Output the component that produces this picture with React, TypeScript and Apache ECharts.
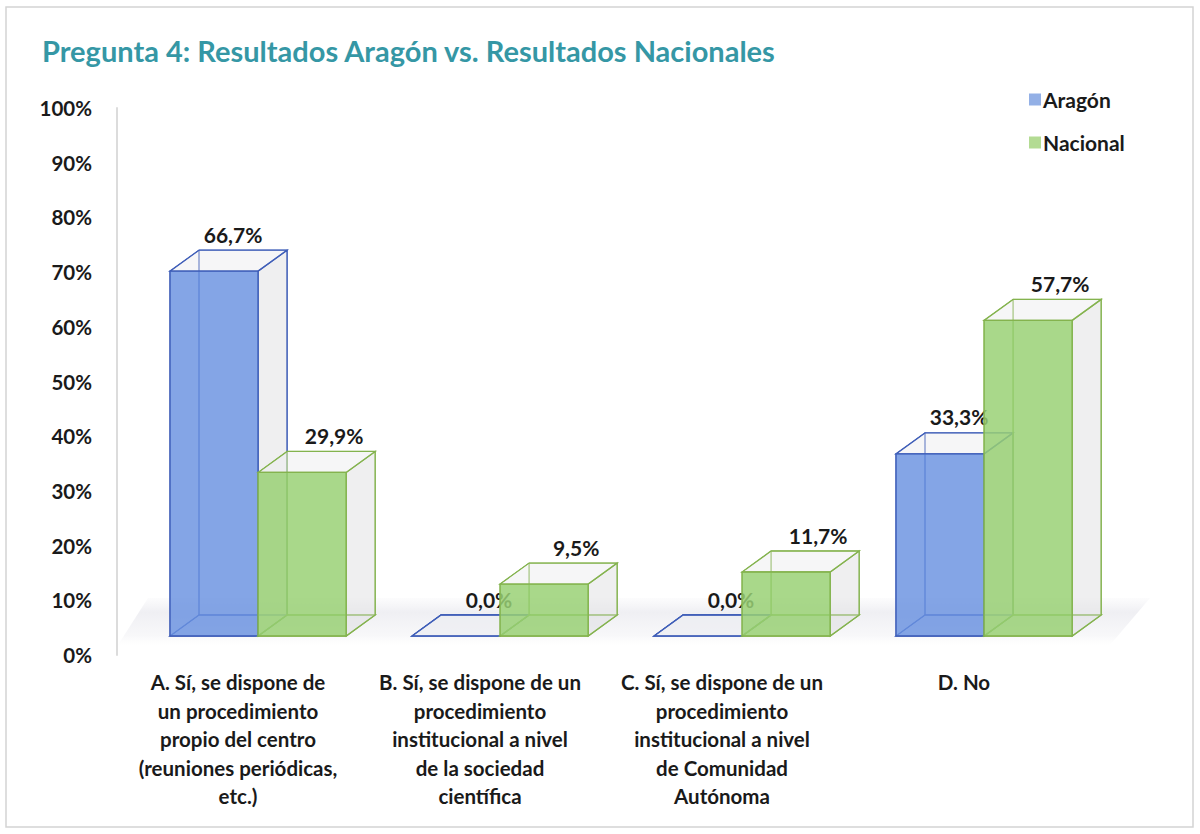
import React, { useEffect, useRef } from "react";
import * as echarts from "echarts";

const categories = [
  "A. Sí, se dispone de\nun procedimiento\npropio del centro\n(reuniones periódicas,\netc.)",
  "B. Sí, se dispone de un\nprocedimiento\ninstitucional a nivel\nde la sociedad\ncientífica",
  "C. Sí, se dispone de un\nprocedimiento\ninstitucional a nivel\nde Comunidad\nAutónoma",
  "D. No",
];
const aragon = [66.7, 0.0, 0.0, 33.3];
const nacional = [29.9, 9.5, 11.7, 57.7];
const seriesNames = ["Aragón", "Nacional"];
const yTicks = [0, 100, 10];

const FONT = "Lato, 'Open Sans', sans-serif";
const palette = [
  { fill: "rgba(105,145,225,0.82)", edge: "#3F5EB8", legend: "#93B0E6", labelDx: 19 },
  { fill: "rgba(150,208,112,0.82)", edge: "#84B34E", legend: "#B3DB93", labelDx: 32 },
];

function fmt(v: number) {
  return v.toFixed(1).replace(".", ",") + "%";
}

function renderBox(params: any, api: any) {
  const idx = api.value(0);
  const v = api.value(1);
  const base = api.coord([idx, 0]);
  const top = api.coord([idx, v]);
  const band = api.size([1, 0])[0];
  const barW = band * 0.364;
  const shift = band * 0.083;
  const lift = 19;
  const dx = 29;
  const dy = -21;
  const s = params.seriesIndex;
  const c = palette[s];
  const cx = base[0] + shift;
  const x0 = s === 0 ? cx - barW : cx;
  const x1 = x0 + barW;
  const yb = base[1] - lift;
  const yt = top[1] - lift;
  const edgeW = 1.3;
  const children: any[] = [];
  children.push({
    type: "rect",
    shape: { x: x0 + dx, y: yt + dy, width: barW, height: yb - yt },
    style: { fill: "rgba(240,240,242,0.35)", stroke: c.edge, lineWidth: 1, opacity: 0.85 },
  });
  children.push({
    type: "polygon",
    shape: { points: [[x0, yb], [x0 + dx, yb + dy], [x1 + dx, yb + dy], [x1, yb]] },
    style: { fill: v === 0 ? "rgba(232,234,242,0.5)" : "rgba(230,230,233,0.3)", stroke: c.edge, lineWidth: edgeW },
  });
  children.push({
    type: "polygon",
    shape: { points: [[x0, yt], [x0 + dx, yt + dy], [x0 + dx, yb + dy], [x0, yb]] },
    style: { fill: "rgba(225,225,228,0.15)", stroke: c.edge, lineWidth: 1 },
  });
  children.push({
    type: "polygon",
    shape: { points: [[x1, yt], [x1 + dx, yt + dy], [x1 + dx, yb + dy], [x1, yb]] },
    style: { fill: "rgba(222,222,224,0.4)", stroke: c.edge, lineWidth: edgeW },
  });
  children.push({
    type: "polygon",
    shape: { points: [[x0, yt], [x0 + dx, yt + dy], [x1 + dx, yt + dy], [x1, yt]] },
    style: { fill: "rgba(240,240,242,0.4)", stroke: c.edge, lineWidth: edgeW },
  });
  if (yb - yt > 0) {
    children.push({
      type: "rect",
      shape: { x: x0, y: yt, width: barW, height: yb - yt },
      style: { fill: c.fill, stroke: c.edge, lineWidth: edgeW },
    });
  }
  const ldx = v === 0 ? 33 : c.labelDx;
  children.push({
    type: "text",
    x: (x0 + x1) / 2 + ldx,
    y: yt + dy - 16,
    style: {
      text: fmt(v),
      fill: "#1a1a1a",
      font: `bold 21px ${FONT}`,
      align: "center",
      verticalAlign: "middle",
    },
    z2: 10,
  });
  return { type: "group", children };
}

export default function App() {
  const ref = useRef<HTMLDivElement>(null);
  useEffect(() => {
    document.body.style.margin = "0";
    if (!ref.current) return;
    const chart = echarts.init(ref.current, undefined, { renderer: "svg" });
    const option: any = {
      animation: false,
      backgroundColor: "#ffffff",
      title: {
        text: "Pregunta 4: Resultados Aragón vs. Resultados Nacionales",
        left: 37,
        top: 31,
        textStyle: { color: "#3597A5", fontSize: 29, fontWeight: "bold", fontFamily: FONT },
      },
      legend: {
        orient: "vertical",
        left: 1024,
        top: 84,
        itemGap: 22,
        itemWidth: 12,
        itemHeight: 12,
        icon: "rect",
        textStyle: { fontSize: 21, fontWeight: "bold", color: "#1a1a1a", fontFamily: FONT, padding: [0, 0, 0, -3] },
        data: seriesNames,
      },
      grid: { left: 117, right: 115, top: 108, bottom: 179 },
      xAxis: {
        type: "category",
        data: categories,
        axisLine: { show: false },
        axisTick: { show: false },
        axisLabel: {
          interval: 0,
          margin: 13,
          fontSize: 20.5,
          fontWeight: "bold",
          color: "#1a1a1a",
          fontFamily: FONT,
          lineHeight: 28.5,
          align: "center",
          verticalAlign: "top",
        },
      },
      yAxis: {
        type: "value",
        min: yTicks[0],
        max: yTicks[1],
        interval: yTicks[2],
        axisLine: { show: true, lineStyle: { color: "#dcdcdc", width: 2 } },
        axisTick: { show: false },
        splitLine: { show: false },
        axisLabel: {
          formatter: "{value}%",
          margin: 25,
          fontSize: 20.5,
          fontWeight: "bold",
          color: "#1a1a1a",
          fontFamily: FONT,
        },
      },
      graphic: [
        {
          type: "rect",
          z: -10,
          shape: { x: 6, y: 7, width: 1187, height: 820 },
          style: { fill: "none", stroke: "#d4d4d4", lineWidth: 1.5 },
        },
        {
          type: "polygon",
          z: -5,
          shape: { points: [[118, 645], [1110, 645], [1150, 598], [148, 598]] },
          style: {
            fill: new echarts.graphic.LinearGradient(0, 0, 0, 1, [
              { offset: 0, color: "rgba(225,225,232,0.1)" },
              { offset: 0.3, color: "rgba(215,215,225,0.4)" },
              { offset: 0.8, color: "rgba(230,230,236,0.3)" },
              { offset: 1, color: "rgba(245,245,247,0.05)" },
            ]),
          },
        },
      ],
      series: [
        {
          name: seriesNames[0],
          type: "custom",
          renderItem: renderBox,
          itemStyle: { color: palette[0].legend },
          encode: { x: 0, y: 1 },
          data: aragon.map((v, i) => [i, v]),
          z: 3,
        },
        {
          name: seriesNames[1],
          type: "custom",
          renderItem: renderBox,
          itemStyle: { color: palette[1].legend },
          encode: { x: 0, y: 1 },
          data: nacional.map((v, i) => [i, v]),
          z: 4,
        },
      ],
    };
    chart.setOption(option);
    return () => chart.dispose();
  }, []);
  return <div ref={ref} style={{ width: 1200, height: 834 }} />;
}
